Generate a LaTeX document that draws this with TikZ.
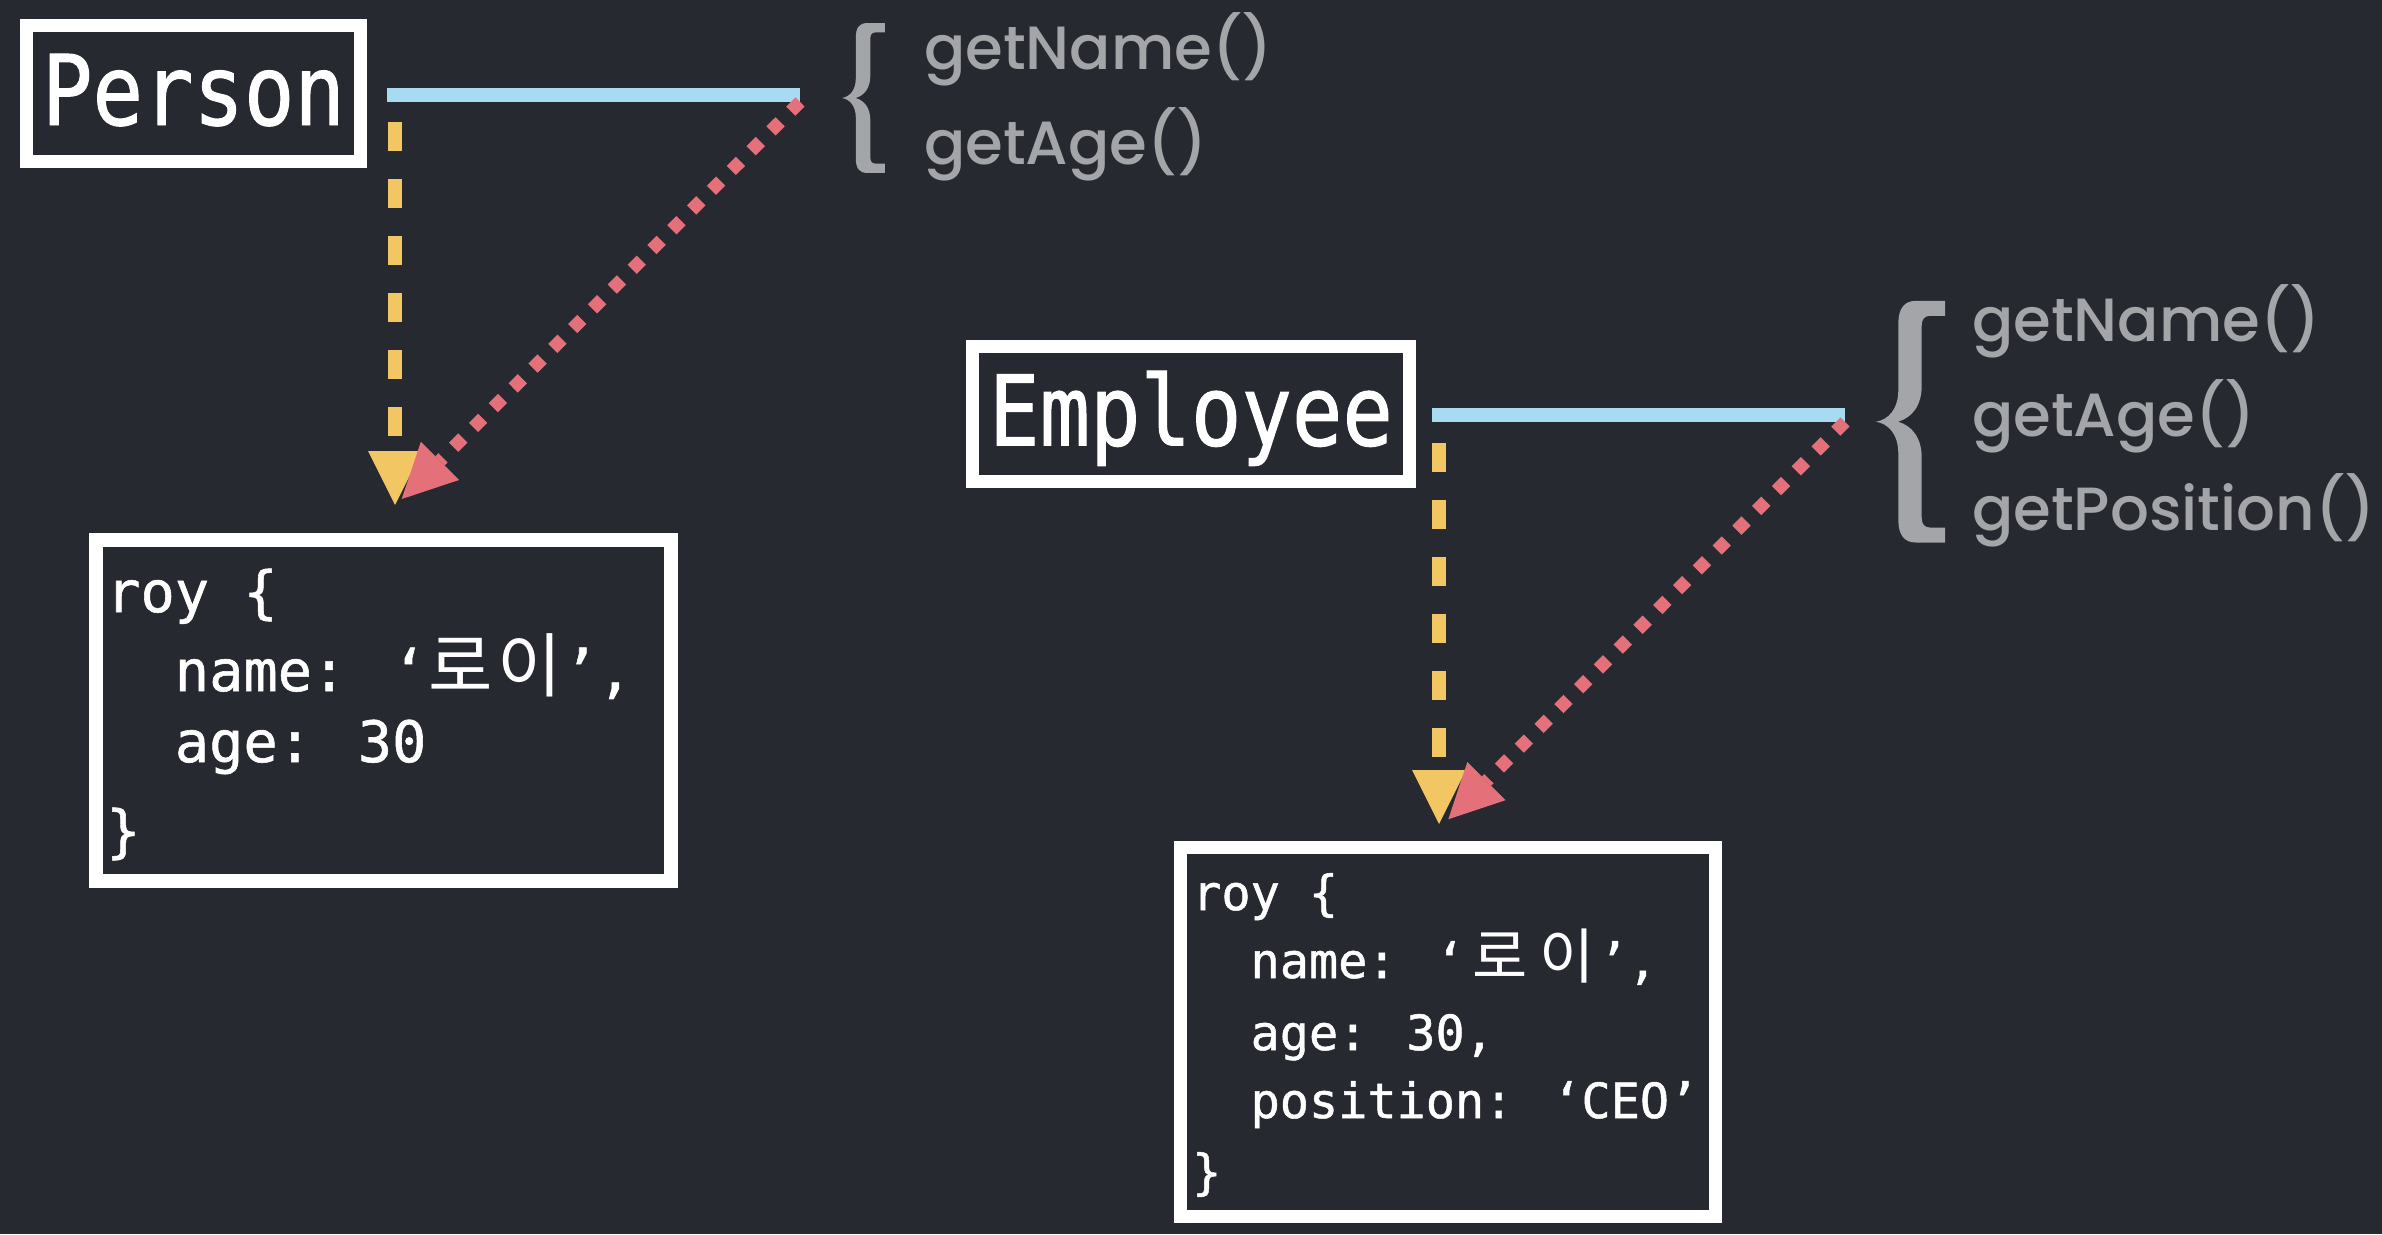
\documentclass[tikz,border=0pt]{standalone}
\usepackage{fontspec}
\usetikzlibrary{arrows.meta}
\newfontfamily\codefont[FakeBold=1]{DejaVu Sans Mono}
\newfontfamily\hdrfont[FakeStretch=0.86,FakeBold=1]{DejaVu Sans Mono}
\newfontfamily\krfont{Noto Sans CJK KR}
\newfontfamily\mfont{Poppins Medium}
\definecolor{bg}{HTML}{272930}
\definecolor{lineblue}{HTML}{A6DBF2}
\definecolor{lineyellow}{HTML}{F2C662}
\definecolor{linered}{HTML}{E4707A}
\definecolor{methgray}{HTML}{A3A5A8}
\newcommand\hgl[3]{\makebox[#1pt][c]{\krfont\fontsize{#2}{#2}\selectfont #3}}
\tikzset{
  hdrbox/.style={draw=white, line width=13pt, inner sep=0pt, text=white,
    font=\hdrfont\fontsize{97.5}{97.5}\selectfont, text height=63pt, text depth=0pt},
  objbox/.style={draw=white, line width=13.5pt, inner sep=0pt},
  codeline/.style={anchor=base west, inner sep=0pt, text=white},
  pcode/.style={codeline, font=\codefont\fontsize{57}{57}\selectfont},
  ecode/.style={codeline, font=\codefont\fontsize{48.5}{48.5}\selectfont},
  meth/.style={anchor=base west, inner sep=0pt, text=methgray,
    font=\mfont\fontsize{61}{61}\selectfont},
  inherit/.style={draw=lineblue, line width=14pt},
  protolink/.style={color=lineyellow, line width=14pt, dash pattern=on 29pt off 28pt,
    -{Triangle[width=54pt,length=54pt,line width=0pt]}},
  methlink/.style={color=linered, line width=13pt, dash pattern=on 13pt off 15pt,
    -{Triangle[width=54pt,length=54pt,line width=0pt]}},
  methbrace/.pic={
    \fill[methgray] (69,-120.85) -- (40,-120.85)
      .. controls (28,-120.85) and (22.3,-113) .. (22.3,-98) -- (22.3,-32)
      .. controls (22.3,-12) and (12,-2) .. (0,0)
      .. controls (12,2) and (22.3,12) .. (22.3,32) -- (22.3,98)
      .. controls (22.3,113) and (28,120.85) .. (40,120.85) -- (69,120.85)
      -- (69,105.85) -- (54,105.85)
      .. controls (48,105.85) and (45.7,102) .. (45.7,96) -- (45.7,36)
      .. controls (45.7,16) and (36,4) .. (22,0)
      .. controls (36,-4) and (45.7,-16) .. (45.7,-36) -- (45.7,-96)
      .. controls (45.7,-102) and (48,-105.85) .. (54,-105.85) -- (69,-105.85) -- cycle;
  }
}
\begin{document}
\begin{tikzpicture}[x=1pt, y=-1pt]
  \fill[bg] (0,0) rectangle (2382,1234);
  \useasboundingbox (0,0) rectangle (2382,1234);

  % ---------- Person ----------
  \node[hdrbox, minimum width=334pt, minimum height=136pt] (person) at (193.5,93.5) {Person};
  \coordinate (pbend) at (800,95);
  \draw[inherit] ([xshift=20pt,yshift=-1.5pt]person.east) coordinate (pbstart) -- (pbend);
  \pic[scale=0.62] at (842,98) {methbrace};
  \node[meth] (pm1) at (924,69) {getName()};
  \node[meth] (pm2) at (924,164) {getAge()};

  \node[objbox, minimum width=575pt, minimum height=341pt] (personobj) at (383.3,710.4) {};
  \node[pcode] (pl1) at (106,612) {roy \{};
  \node[pcode] (pl2) at (174.6,691) {name: ‘\hgl{68.6}{70}{로}\hgl{68.6}{70}{이}’,};
  \node[pcode] (pl3) at (174.6,762) {age: 30};
  \node[pcode] (pl4) at (106,851) {\}};

  \coordinate (pys) at (395,122);
  \coordinate (pye) at (395,505);
  \coordinate (prs) at (800,102);
  \coordinate (pre) at (401.7,499);
  \draw[protolink] (pys) -- (pye);
  \draw[methlink] (prs) -- (pre);

  % ---------- Employee ----------
  \node[hdrbox, minimum width=437pt, minimum height=135pt] (employee) at (1191,414) {Employee};
  \coordinate (ebend) at (1845,415);
  \draw[inherit] ([xshift=16pt,yshift=-1pt]employee.east) coordinate (ebstart) -- (ebend);
  \pic at (1876,421.7) {methbrace};
  \node[meth] (em1) at (1972,341.7) {getName()};
  \node[meth] (em2) at (1972,436.7) {getAge()};
  \node[meth] (em3) at (1972,530) {getPosition()};

  \node[objbox, minimum width=535pt, minimum height=369pt] (employeeobj) at (1447.9,1031.9) {};
  \node[ecode] (el1) at (1192,910) {roy \{};
  \node[ecode] (el2) at (1250.4,978) {name: ‘\hgl{70}{60}{로}\hgl{64}{60}{이}’,};
  \node[ecode] (el3) at (1250.4,1050) {age: 30,};
  \node[ecode] (el4) at (1250.4,1118) {position: ‘CEO’};
  \node[ecode] (el5) at (1192,1189) {\}};

  \coordinate (eys) at (1439,442.5);
  \coordinate (eye) at (1439,824);
  \coordinate (ers) at (1845,422);
  \coordinate (ere) at (1448.3,819.3);
  \draw[protolink] (eys) -- (eye);
  \draw[methlink] (ers) -- (ere);
\end{tikzpicture}
\end{document}
